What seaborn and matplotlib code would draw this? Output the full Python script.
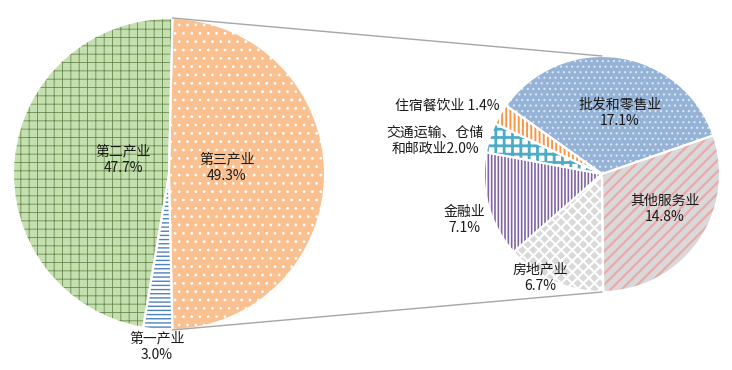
import numpy as np
import matplotlib
matplotlib.use('Agg')
import matplotlib.pyplot as plt
import seaborn as sns

sns.set_theme(style='white')
plt.rcParams['font.family'] = ['Noto Sans CJK SC', 'DejaVu Sans']

# main pie: three industries
main_names = ['第一产业', '第二产业', '第三产业']
main_values = [3.0, 47.7, 49.3]

# secondary pie: breakdown of 第三产业
sub_names = ['批发和零售业', '其他服务业', '房地产业', '金融业', '交通运输、仓储\n和邮政业', '住宿餐饮业']
sub_values = [17.1, 14.8, 6.7, 7.1, 2.0, 1.4]

# styles: (face, hatch colour, hatch, hatch linewidth)
main_style = {
    '第一产业': ('white', '#4F81BD', '----', 1.0),
    '第二产业': ('#C4DFB0', '#6A8A4C', '++', 0.6),
    '第三产业': ('#FAC090', 'white', '..', 0.8),
}
sub_style = [
    ('#95B3D7', '#DCE6F2', '...', 0.8),
    ('#D9D9D9', '#EBA9A9', '///', 1.6),
    ('#D9D9D9', 'white', 'xxx', 1.5),
    ('white', '#8064A2', '|||||', 1.2),
    ('white', '#4BACC6', '++', 2.0),
    ('white', '#F79646', '||||', 1.4),
]

W, H = 732, 370
fig = plt.figure(figsize=(W / 100, H / 100), dpi=100)
ax = fig.add_axes([0, 0, 1, 1])

def py(y):
    return H - y

c1, r1 = (169, py(174)), 156
c2, r2 = (602, py(174)), 118


def draw_pie(values, styles, center, radius, **kw):
    wedges, _ = ax.pie(values, center=center, radius=radius, **kw)
    for w, (fc, hc, hatch, hlw) in zip(wedges, styles):
        w.set_facecolor(fc)
        w.set_edgecolor(hc)
        w.set_hatch(hatch)
        w.set_linewidth(0)
        if hasattr(w, 'set_hatch_linewidth'):
            w.set_hatch_linewidth(hlw)
    # white separators on top
    ax.pie(values, center=center, radius=radius,
           wedgeprops=dict(facecolor='none', edgecolor='white', linewidth=1.5), **kw)
    return wedges


# left pie: 第三产业 centered on the right side
order = ['第三产业', '第二产业', '第一产业']
vals = [main_values[main_names.index(n)] for n in order]
start = -main_values[2] / 100 * 360 / 2
draw_pie(vals, [main_style[n] for n in order], c1, r1, startangle=start, counterclock=True)

# right pie
draw_pie(sub_values, sub_style, c2, r2, startangle=144.5, counterclock=False)

# connector lines
a = np.deg2rad(-start)
for sgn in (1, -1):
    x0 = c1[0] + r1 * np.cos(a)
    y0 = c1[1] + sgn * r1 * np.sin(a)
    ax.plot([x0, c2[0]], [y0, c2[1] + sgn * r2], color='#A6A6A6', lw=1)

# labels
tk = dict(fontsize=10, color='#1a1a1a', ha='center', va='center', linespacing=1.25)
main_pos = {'第二产业': (123, 160), '第三产业': (227, 168), '第一产业': (157, 347)}
for n, v in zip(main_names, main_values):
    x, y = main_pos[n]
    ax.text(x, py(y), f'{n}\n{v:.1f}%', **tk)

sub_pos = [(620, 113), (665, 209), (540, 278), (464, 220), (435, 141), (447, 106)]
for n, v, (x, y) in zip(sub_names, sub_values, sub_pos):
    if n == '住宿餐饮业':
        s = f'{n} {v:.1f}%'
    elif '\n' in n:
        s = f'{n}{v:.1f}%'
    else:
        s = f'{n}\n{v:.1f}%'
    ax.text(x, py(y), s, **tk)

ax.set_xlim(0, W)
ax.set_ylim(0, H)
ax.set_aspect('equal')
ax.axis('off')
fig.savefig('out.png', dpi=100)
